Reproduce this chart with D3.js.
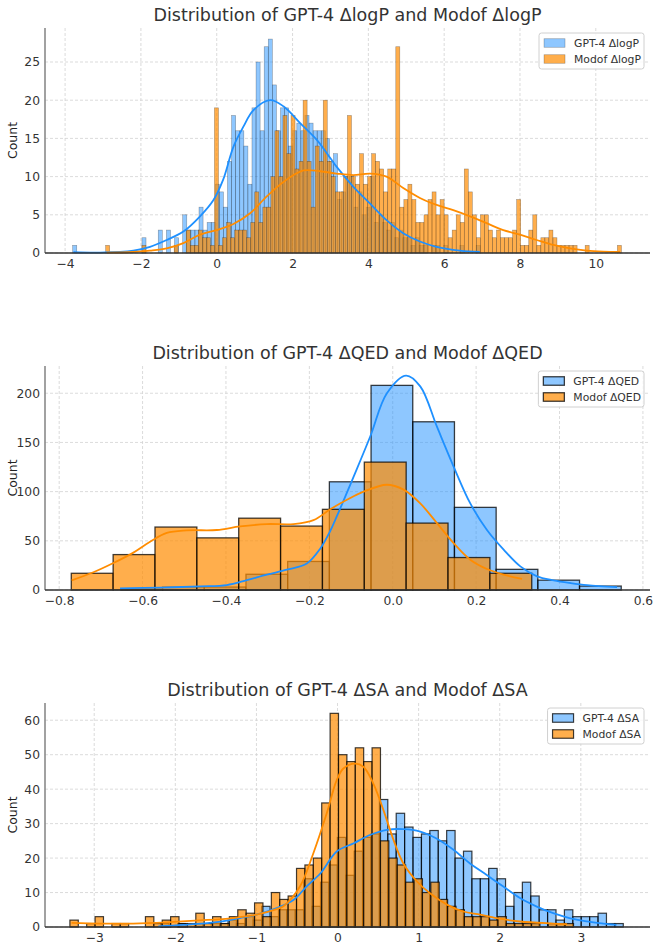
<!DOCTYPE html>
<html lang="en">
<head>
<meta charset="utf-8">
<title>GPT-4 vs Modof distributions</title>
<script src="https://d3js.org/d3.v7.min.js"></script>
<style>
  body { margin: 0; background: #fff; }
  svg text { font-family: "DejaVu Sans", sans-serif; }
</style>
</head>
<body>
<div id="chart"></div>
<script>
// ---- data ----
// Delta logP histograms (bin start / bin width / counts)
var logpGptStart = -3.8, logpGptWidth = 0.1075;
var logpGptCounts = [1,0,0,0,0,0,0,0,0,0,0,0,0,0,0,0,0,
  2,0,0,0,3,0,3,0,2,0,5,3,3,3,6,3,4,4,9,8,6,
  12,18,16,16,14,9,19,25,16,27,28,22,
  16,19,19,14,16,17,16,18,17,16,16,
  16,15,12,13,7,8,10,10,6,8,
  5,6,10,4,5,4,3,4,2,3,
  2,2,1,2,1,1,0,1,1,0,
  1,0,0,0,1,0,0,0,1];
var logpModofStart = -2.93, logpModofWidth = 0.1063;
var logpModofCounts = [1,0,0,0,0,0,0,0,0,1,0,0,0,0,0,0,0,1,0,0,3,1,1,3,2,2,1,19,
  1,2,4,2,3,3,3,2,4,
  8,4,6,6,10,16,10,18,13,18,11,12,20,12,6,14,12,20,12,
  10,8,8,10,18,10,9,13,9,10,13,12,11,8,11,11,27,
  6,7,9,7,4,4,5,7,8,5,7,5,2,3,5,4,11,
  8,5,2,5,5,3,2,3,2,2,2,3,7,
  1,1,3,5,1,2,2,3,2,1,1,1,
  1,1,0,0,1,0,0,0,0,0,0,0,1];
var logpGptKde = [[-3.78,0.1],[-3.08,0.05],[-2.2,0.3],[-1.76,0.8],[-1.32,1.7],[-0.88,2.8],[-0.44,4.8],[-0.09,6.9],[0.17,9.6],[0.44,13.9],[0.7,16.5],[0.97,18.7],[1.41,20.0],[1.76,19.2],[2.2,17.0],[2.64,14.8],[3.0,12.4],[3.16,11.3],[3.6,8.7],[4.04,6.5],[4.48,4.3],[4.92,2.6],[5.36,1.5],[5.8,0.8],[6.41,0.3],[6.94,0.13]];
var logpModofKde = [[-2.9,0.04],[-2.2,0.13],[-1.76,0.3],[-1.32,0.6],[-0.88,1.3],[-0.44,2.4],[0,3.0],[0.44,3.8],[0.88,5.2],[1.32,7.4],[1.76,9.3],[2.29,10.8],[2.73,10.7],[3.16,10.4],[3.6,10.2],[4.04,10.4],[4.48,10.0],[4.92,8.5],[5.36,7.2],[5.8,6.3],[6.24,5.6],[6.68,4.8],[7.12,3.9],[7.56,3.0],[8.0,2.4],[8.44,1.7],[8.88,1.05],[9.32,0.6],[9.76,0.3],[10.2,0.17],[10.64,0.13]];

// Delta QED
var qedGptStart = -0.652, qedGptWidth = 0.1;
var qedGptCounts = [1,3,3,16,29,110,208,171,84,21,10,4];
var qedModofStart = -0.771, qedModofWidth = 0.1004;
var qedModofCounts = [17,36,64,53,73,65,82,130,68,33,17];
var qedGptKde = [[-0.654,1.7],[-0.558,2.4],[-0.462,3.7],[-0.398,5],[-0.35,10],[-0.302,15.6],[-0.254,20.6],[-0.206,27],[-0.174,42],[-0.15,60],[-0.134,75],[-0.094,115],[-0.054,156],[-0.014,200],[0.032,218],[0.066,207],[0.106,166],[0.146,125.5],[0.186,88],[0.226,61],[0.266,41],[0.306,24],[0.346,13.9],[0.386,9.8],[0.426,7.1],[0.466,5],[0.538,3]];
var qedModofKde = [[-0.77,9.8],[-0.718,18],[-0.67,27.4],[-0.622,38],[-0.582,49],[-0.542,58],[-0.494,60.6],[-0.422,61],[-0.366,64.6],[-0.302,67],[-0.238,67],[-0.19,71],[-0.15,82],[-0.11,91.7],[-0.07,100],[-0.014,107],[0.026,102],[0.066,88],[0.106,68],[0.146,47.7],[0.186,30.8],[0.226,21.3],[0.266,15.6],[0.31,11.2]];

// Delta SA
var saGptStart = -2.18, saGptWidth = 0.1037;
var saGptCounts = [1,0,1,0,1,0,1,1,2,1,3,2,6,3,5,5,5,14,6,13,18,26,15,22,26,27,37,27,33,29,26,27,28,25,28,20,22,14,14,17,14,6,10,13,9,5,5,2,5,3,3,3,4,1,1];
var saModofStart = -3.30, saModofWidth = 0.1035;
var saModofCounts = [2,0,1,3,0,1,1,0,0,3,1,2,3,1,1,4,1,3,1,3,5,4,7,3,10,8,9,17,18,20,36,62,
  50,48,52,48,52,25,20,18,13,14,10,13,8,6,5,3,3,
  3,2,3,1,1,1,1,0,1,1,1];
var saGptKde = [[-2.21,0.2],[-1.9,0.6],[-1.49,1.4],[-1.2,2.6],[-1.0,3.6],[-0.75,5.5],[-0.54,7.9],[-0.38,11.8],[-0.21,15.6],[-0.01,21.9],[0.2,24.3],[0.4,26.7],[0.61,28.2],[0.81,28.4],[1.02,27.7],[1.22,25.7],[1.43,22.4],[1.63,18.5],[1.84,15.1],[2.04,11.8],[2.25,8.4],[2.45,6.0],[2.66,4.0],[2.86,2.6],[3.07,1.6],[3.28,1.0],[3.44,0.6]];
var saModofKde = [[-3.28,1.2],[-2.93,1.0],[-2.52,1.0],[-2.11,1.35],[-1.7,1.9],[-1.29,2.6],[-1.0,3.6],[-0.75,5.2],[-0.667,6.0],[-0.462,11.8],[-0.298,21.4],[-0.133,33],[-0.01,42.6],[0.072,46],[0.216,47.4],[0.319,46.5],[0.44,41.7],[0.565,34],[0.69,25.3],[0.81,18.5],[0.98,13.2],[1.14,9.8],[1.35,6.5],[1.55,4.5],[1.76,3.6],[2.0,2.4],[2.25,1.6],[2.66,1.0],[2.83,0.8]];

var logpXTicks = [-4,-2,0,2,4,6,8,10], logpYTicks = [0,5,10,15,20,25];
var qedXTicks = [-0.8,-0.6,-0.4,-0.2,0,0.2,0.4,0.6], qedYTicks = [0,50,100,150,200];
var saXTicks = [-3,-2,-1,0,1,2,3], saYTicks = [0,10,20,30,40,50,60];

// ---- drawing ----
var width = 655, height = 944;
var blue = "#1E90FF", orange = "#FF8C00";

var svg = d3.select("#chart").append("svg")
    .attr("width", width)
    .attr("height", height);

function toBins(start, w, counts) {
    return counts.map(function(c, i) {
        return { x0: start + i * w, x1: start + (i + 1) * w, n: c };
    });
}

function panel(o) {
    var left = 45, right = 650;
    var x = d3.scaleLinear().domain(o.xDomain).range([left, right]);
    var y = d3.scaleLinear().domain(o.yDomain).range([o.bottom, o.top]);
    var g = svg.append("g");

    // grid
    g.selectAll(".gx").data(o.xTicks).enter().append("line")
        .attr("x1", function(d){ return x(d); }).attr("x2", function(d){ return x(d); })
        .attr("y1", o.top).attr("y2", o.bottom)
        .attr("stroke", "#d2d2d2").attr("stroke-width", 0.8).attr("stroke-dasharray", "3,2");
    g.selectAll(".gy").data(o.yTicks).enter().append("line")
        .attr("x1", left).attr("x2", right)
        .attr("y1", function(d){ return y(d); }).attr("y2", function(d){ return y(d); })
        .attr("stroke", "#d2d2d2").attr("stroke-width", 0.8).attr("stroke-dasharray", "3,2");

    // histograms: GPT-4 first, Modof on top
    [[o.gpt, blue, 0.5], [o.modof, orange, 0.7]].forEach(function(s) {
        g.append("g").selectAll("rect").data(s[0].filter(function(b){ return b.n > 0; })).enter().append("rect")
            .attr("x", function(b){ return x(b.x0); })
            .attr("width", function(b){ return x(b.x1) - x(b.x0); })
            .attr("y", function(b){ return y(b.n); })
            .attr("height", function(b){ return y(0) - y(b.n); })
            .attr("fill", s[1]).attr("fill-opacity", s[2])
            .attr("stroke", "#000").attr("stroke-opacity", o.edgeOpacity)
            .attr("stroke-width", o.edgeWidth);
    });

    // kde lines
    var line = d3.line().x(function(d){ return x(d[0]); }).y(function(d){ return y(d[1]); })
        .curve(d3.curveCatmullRom);
    [[o.gptKde, blue], [o.modofKde, orange]].forEach(function(s) {
        g.append("path").datum(s[0]).attr("d", line)
            .attr("fill", "none").attr("stroke", s[1]).attr("stroke-width", 1.8);
    });

    // axes
    var xa = g.append("g").attr("transform", "translate(0," + o.bottom + ")")
        .call(d3.axisBottom(x).tickValues(o.xTicks).tickSize(0).tickPadding(6).tickFormat(o.fmt));
    var ya = g.append("g").attr("transform", "translate(" + left + ",0)")
        .call(d3.axisLeft(y).tickValues(o.yTicks).tickSize(0).tickPadding(5));
    [xa, ya].forEach(function(a) {
        a.select(".domain").remove();
        a.selectAll("text").attr("font-size", 12.3).attr("fill", "#333")
            .style("font-family", "DejaVu Sans");
    });
    g.append("line").attr("x1", left).attr("x2", left).attr("y1", o.top).attr("y2", o.bottom)
        .attr("stroke", "#8a8a8a").attr("stroke-width", 1.6);
    g.append("line").attr("x1", left).attr("x2", right).attr("y1", o.bottom).attr("y2", o.bottom)
        .attr("stroke", "#333").attr("stroke-width", 1.3);

    // title + y label
    g.append("text").attr("x", (left + right) / 2).attr("y", o.top - 7)
        .attr("text-anchor", "middle").attr("font-size", 17.5).attr("fill", "#333").text(o.title);
    g.append("text").attr("transform", "translate(17," + ((o.top + o.bottom) / 2) + ") rotate(-90)")
        .attr("text-anchor", "middle").attr("font-size", 12.5).attr("fill", "#222").text("Count");

    // legend
    var lg = g.append("g");
    var box = lg.append("rect").attr("fill", "#fff").attr("fill-opacity", 0.8)
        .attr("stroke", "#d0d0d0").attr("rx", 2.5);
    var texts = [];
    o.labels.forEach(function(lab, i) {
        var cy = o.top + 5 + 10 + i * 16;
        lg.append("rect").attr("width", 21).attr("height", 8.5)
            .attr("x", 0).attr("y", cy - 4.25)
            .attr("fill", i ? orange : blue).attr("fill-opacity", i ? 0.7 : 0.5)
            .attr("stroke", "#000").attr("stroke-opacity", o.edgeOpacity)
            .attr("stroke-width", o.edgeWidth).attr("class", "patch");
        texts.push(lg.append("text").attr("x", 30).attr("y", cy + 4)
            .attr("font-size", 10.8).attr("fill", "#333").text(lab));
    });
    var tw = d3.max(texts, function(t){ return t.node().getComputedTextLength(); });
    var bw = 30 + tw + 8, bx = right - 6 - bw;
    box.attr("x", bx).attr("y", o.top + 5).attr("width", bw).attr("height", 36);
    lg.selectAll(".patch").attr("x", bx + 5);
    texts.forEach(function(t){ t.attr("x", bx + 35); });
}

panel({
    top: 28, bottom: 253, xDomain: [-4.53, 11.43], yDomain: [0, 29.45],
    xTicks: logpXTicks, yTicks: logpYTicks, fmt: d3.format("d"),
    gpt: toBins(logpGptStart, logpGptWidth, logpGptCounts),
    modof: toBins(logpModofStart, logpModofWidth, logpModofCounts),
    gptKde: logpGptKde, modofKde: logpModofKde,
    edgeOpacity: 0.35, edgeWidth: 0.6,
    title: "Distribution of GPT-4 \u0394logP and Modof \u0394logP",
    labels: ["GPT-4 \u0394logP", "Modof \u0394logP"]
});
panel({
    top: 366, bottom: 590, xDomain: [-0.834, 0.617], yDomain: [0, 227.7],
    xTicks: qedXTicks, yTicks: qedYTicks, fmt: d3.format(".1f"),
    gpt: toBins(qedGptStart, qedGptWidth, qedGptCounts),
    modof: toBins(qedModofStart, qedModofWidth, qedModofCounts),
    gptKde: qedGptKde, modofKde: qedModofKde,
    edgeOpacity: 0.75, edgeWidth: 1.3,
    title: "Distribution of GPT-4 \u0394QED and Modof \u0394QED",
    labels: ["GPT-4 \u0394QED", "Modof \u0394QED"]
});
panel({
    top: 703, bottom: 927, xDomain: [-3.607, 3.853], yDomain: [0, 65],
    xTicks: saXTicks, yTicks: saYTicks, fmt: d3.format("d"),
    gpt: toBins(saGptStart, saGptWidth, saGptCounts),
    modof: toBins(saModofStart, saModofWidth, saModofCounts),
    gptKde: saGptKde, modofKde: saModofKde,
    edgeOpacity: 0.75, edgeWidth: 1.2,
    title: "Distribution of GPT-4 \u0394SA and Modof \u0394SA",
    labels: ["GPT-4 \u0394SA", "Modof \u0394SA"]
});
</script>
</body>
</html>
